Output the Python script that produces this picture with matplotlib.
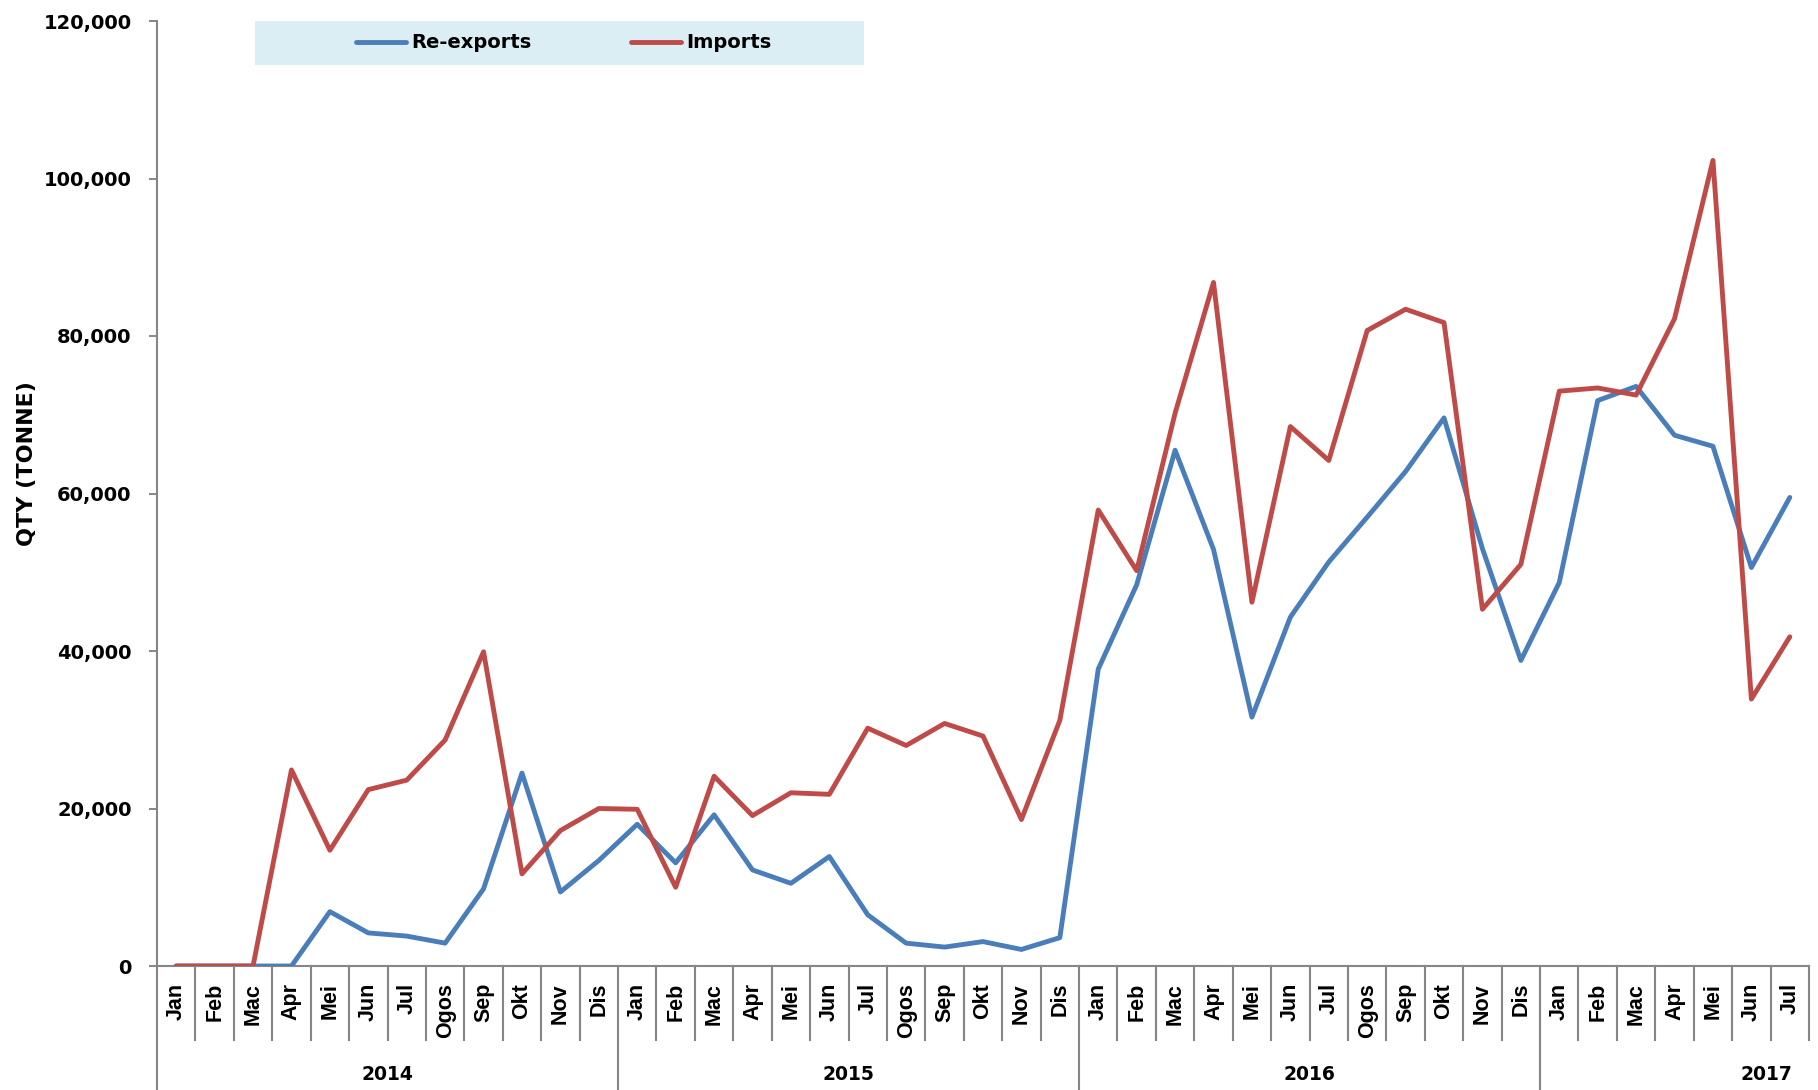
#!/usr/bin/env python3
"""Monthly re-exports vs imports, Jan 2014 - Jul 2017."""

import matplotlib

matplotlib.use("Agg")
import matplotlib.pyplot as plt
from matplotlib.lines import Line2D
from matplotlib.patches import Rectangle
from matplotlib.ticker import FuncFormatter, MultipleLocator
import matplotlib.transforms as mtransforms


MONTHS = ["Jan", "Feb", "Mac", "Apr", "Mei", "Jun", "Jul", "Ogos", "Sep", "Okt", "Nov", "Dis"]
YEARS = ["2014", "2015", "2016", "2017"]
N_MONTHS_LAST = 7  # 2017 runs to Jul

RE_EXPORTS = [
    0, 0, 0, 0, 6900, 4200, 3800, 2900, 9800, 24500, 9400, 13400,
    18000, 13100, 19200, 12200, 10500, 13900, 6500, 2900, 2400, 3100, 2100, 3600,
    37700, 48400, 65500, 52900, 31600, 44300, 51300, 57000, 62800, 69600, 53000, 38800,
    48700, 71800, 73600, 67400, 66000, 50600, 59500,
]
IMPORTS = [
    0, 0, 0, 24900, 14700, 22400, 23600, 28700, 39900, 11700, 17200, 20000,
    19900, 10000, 24100, 19100, 22000, 21800, 30200, 28000, 30800, 29200, 18600, 31200,
    57900, 50200, 70200, 86800, 46200, 68500, 64200, 80700, 83400, 81700, 45300, 51000,
    73000, 73400, 72500, 82200, 102300, 33900, 41800,
]

STYLE = {
    "blue": "#4a7ebb",
    "red": "#be4b48",
    "axis": "#868686",
    "legend_bg": "#dbeef4",
    "text": "black",
}
FONT = "DejaVu Sans"


def month_labels():
    labels = []
    for i, _ in enumerate(YEARS):
        n = N_MONTHS_LAST if i == len(YEARS) - 1 else 12
        labels.extend(MONTHS[:n])
    return labels


def main():
    labels = month_labels()
    x = list(range(len(labels)))

    fig = plt.figure(figsize=(18.18, 10.90), dpi=100)
    W, H = 1818, 1090
    left, right, top, bottom = 157, 1809, 21, 966
    ax = fig.add_axes([left / W, 1 - bottom / H, (right - left) / W, (bottom - top) / H])

    ax.plot(x, RE_EXPORTS, color=STYLE["blue"], linewidth=3.5, solid_joinstyle="round",
            solid_capstyle="round", zorder=3)
    ax.plot(x, IMPORTS, color=STYLE["red"], linewidth=3.5, solid_joinstyle="round",
            solid_capstyle="round", zorder=3)

    ax.set_xlim(-0.5, len(labels) - 0.5)
    ax.set_ylim(0, 120000)
    ax.yaxis.set_major_locator(MultipleLocator(20000))
    ax.yaxis.set_major_formatter(FuncFormatter(lambda v, _: f"{int(v):,}"))
    for t in ax.get_yticklabels():
        t.set_fontfamily(FONT)
        t.set_fontweight("bold")
    ax.tick_params(axis="y", labelsize=14, direction="out", length=5.8, width=1.4,
                   color=STYLE["axis"], pad=12.5)
    ax.tick_params(axis="x", bottom=False, labelbottom=False)
    for side in ("top", "right"):
        ax.spines[side].set_visible(False)
    for side in ("left", "bottom"):
        ax.spines[side].set_color(STYLE["axis"])
        ax.spines[side].set_linewidth(1.5)

    ax.set_ylabel("QTY (TONNE)", fontsize=16, fontweight="bold", family=FONT)
    ax.yaxis.set_label_coords(-(left - 37) / (right - left), (bottom - 464) / (bottom - top))

    # two-level category axis below the plot
    ax_h = bottom - top
    trans = mtransforms.blended_transform_factory(ax.transData, ax.transAxes)
    month_low = -(1040 - bottom) / ax_h
    year_low = -(H - bottom) / ax_h
    year_starts = [i * 12 for i in range(len(YEARS))]
    for b in range(len(labels) + 1):
        xb = b - 0.5
        low = year_low if b in year_starts else month_low
        ax.add_line(Line2D([xb, xb], [0, low], transform=trans, color=STYLE["axis"],
                           linewidth=1.5, clip_on=False))
    for i, lab in enumerate(labels):
        ax.text(i, -(983 - bottom) / ax_h, lab, transform=trans, rotation=90,
                ha="center", va="top", fontsize=15.5, fontweight="bold",
                family="Liberation Sans")
    year_centers = [5.5, 17.5, 29.5, 41.4]
    for yc, yr in zip(year_centers, YEARS):
        ax.text(yc, -(1075 - bottom) / ax_h, yr, transform=trans, ha="center",
                va="center", fontsize=13.5, fontweight="bold", family=FONT)

    # legend band
    fig.add_artist(Rectangle((255 / W, 1 - 65 / H), (864 - 255) / W, 44 / H,
                             transform=fig.transFigure, facecolor=STYLE["legend_bg"],
                             edgecolor="none", zorder=5))
    ly = 1 - 42 / H
    for x0, x1, color, name in [(356, 406, STYLE["blue"], "Re-exports"),
                                (631, 681, STYLE["red"], "Imports")]:
        fig.add_artist(Line2D([x0 / W, x1 / W], [ly, ly], transform=fig.transFigure,
                              color=color, linewidth=3.5, solid_capstyle="round", zorder=6))
        fig.text((x1 + 5) / W, ly, name, ha="left", va="center", fontsize=14,
                 fontweight="bold", family=FONT, zorder=7)

    fig.savefig("out.png", dpi=100, facecolor="white")
    plt.close(fig)


if __name__ == "__main__":
    main()
